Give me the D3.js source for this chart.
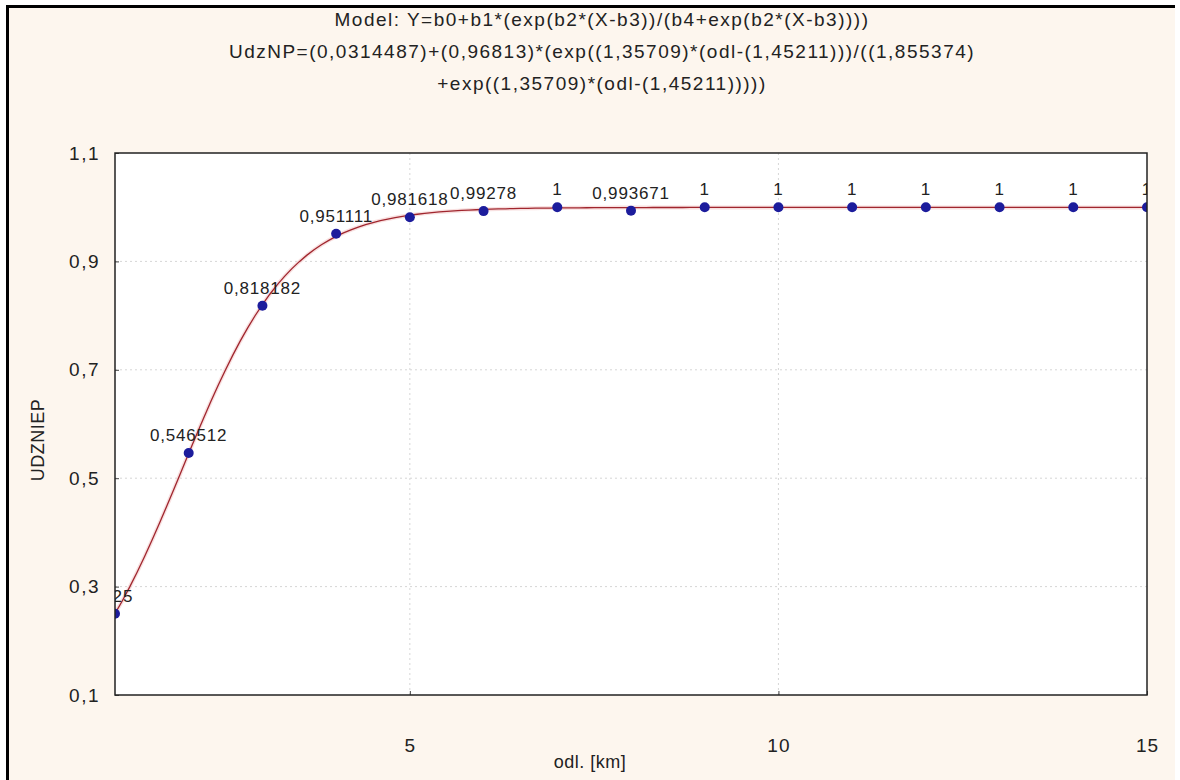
<!DOCTYPE html>
<html>
<head>
    <title>UDZNIEP vs odl.</title>
    <script src="https://d3js.org/d3.v7.min.js"></script>
    <style>
        body { margin: 0; background: #fff; }
        text { font-family: "Liberation Sans", Arial, sans-serif; fill: #222; }
    </style>
</head>
<body>
    <svg id="chart" width="1180" height="780"></svg>
    <script>
        // observed points
        const odl = [1, 2, 3, 4, 5, 6, 7, 8, 9, 10, 11, 12, 13, 14, 15];
        const udzniep = [0.25, 0.546512, 0.818182, 0.951111, 0.981618, 0.99278, 1, 0.993671, 1, 1, 1, 1, 1, 1, 1];
        const pointLabels = ["0,25", "0,546512", "0,818182", "0,951111", "0,981618", "0,99278", "1", "0,993671", "1", "1", "1", "1", "1", "1", "1"];

        // fitted model parameters b0..b4 (from the title)
        const modelParams = [0.0314487, 0.96813, 1.35709, 1.45211, 1.855374];

        const xTicks = [5, 10, 15];
        const yTicks = [0.1, 0.3, 0.5, 0.7, 0.9, 1.1];
        const xGrid = [5, 10];
        const yGrid = [0.3, 0.5, 0.7, 0.9];

        const titleLines = [
            "Model: Y=b0+b1*(exp(b2*(X-b3))/(b4+exp(b2*(X-b3))))",
            "UdzNP=(0,0314487)+(0,96813)*(exp((1,35709)*(odl-(1,45211)))/((1,855374)",
            "+exp((1,35709)*(odl-(1,45211)))))"
        ];

        const svg = d3.select("#chart");
        const W = 1180, H = 780;
        const plot = { left: 115, right: 1147, top: 153, bottom: 695 };

        // frame: cream panel with black top and left edges
        svg.append("rect").attr("x", 7).attr("y", 6).attr("width", 1168).attr("height", H - 6).attr("fill", "#fdf6ee");
        svg.append("line").attr("x1", 6).attr("x2", 1175).attr("y1", 6.5).attr("y2", 6.5).attr("stroke", "#000").attr("stroke-width", 3);
        svg.append("line").attr("x1", 7.5).attr("x2", 7.5).attr("y1", 5).attr("y2", H).attr("stroke", "#000").attr("stroke-width", 3);

        const x = d3.scaleLinear().domain([1, 15]).range([plot.left, plot.right]);
        const y = d3.scaleLinear().domain([0.1, 1.1]).range([plot.bottom, plot.top]);
        const comma = d => d3.format("")(d).replace(".", ",");

        svg.append("rect").attr("x", plot.left).attr("y", plot.top)
            .attr("width", plot.right - plot.left).attr("height", plot.bottom - plot.top)
            .attr("fill", "#fff");

        // grid
        const g = svg.append("g");
        g.selectAll(".hg").data(yGrid).enter().append("line")
            .attr("x1", plot.left).attr("x2", plot.right)
            .attr("y1", d => y(d)).attr("y2", d => y(d))
            .attr("stroke", "#d6d6d6").attr("stroke-dasharray", "2,3");
        g.selectAll(".vg").data(xGrid).enter().append("line")
            .attr("y1", plot.top).attr("y2", plot.bottom)
            .attr("x1", d => x(d)).attr("x2", d => x(d))
            .attr("stroke", "#d6d6d6").attr("stroke-dasharray", "2,3");

        // axes
        const xAxis = d3.axisBottom(x).tickValues(xTicks).tickSize(4).tickFormat(d3.format("d"));
        const yAxis = d3.axisLeft(y).tickValues(yTicks).tickSize(4).tickFormat(comma);

        const gx = svg.append("g").attr("transform", `translate(0,${plot.bottom})`).call(xAxis);
        gx.select(".domain").remove();
        gx.selectAll("line").attr("stroke", "#444").attr("y2", -4);
        gx.selectAll("text").attr("font-size", 19).attr("letter-spacing", 1)
            .attr("y", 57).attr("dy", 0);

        const gy = svg.append("g").attr("transform", `translate(${plot.left},0)`).call(yAxis);
        gy.select(".domain").remove();
        gy.selectAll("line").attr("stroke", "#444").attr("x2", 4);
        gy.selectAll("text").attr("font-size", 19).attr("letter-spacing", 1.5).attr("x", -15);

        // clip for marks and labels
        svg.append("clipPath").attr("id", "plotClip").append("rect")
            .attr("x", plot.left).attr("y", plot.top)
            .attr("width", plot.right - plot.left).attr("height", plot.bottom - plot.top);
        const marks = svg.append("g").attr("clip-path", "url(#plotClip)");

        // fitted curve evaluated from the model parameters
        const [b0, b1, b2, b3, b4] = modelParams;
        const model = v => b0 + b1 * Math.exp(b2 * (v - b3)) / (b4 + Math.exp(b2 * (v - b3)));
        const curveX = d3.range(1, 15.001, 0.1);
        const line = d3.line().x(d => x(d)).y(d => y(model(d)));
        marks.append("path").datum(curveX).attr("d", line)
            .attr("fill", "none").attr("stroke", "#f4cccc").attr("stroke-width", 4).attr("opacity", 0.6);
        marks.append("path").datum(curveX).attr("d", line)
            .attr("fill", "none").attr("stroke", "#a0262e").attr("stroke-width", 1.3);

        const pts = odl.map((d, i) => ({ x: d, y: udzniep[i], label: pointLabels[i] }));
        marks.selectAll("circle").data(pts).enter().append("circle")
            .attr("cx", d => x(d.x)).attr("cy", d => y(d.y)).attr("r", 5)
            .attr("fill", "#1c1c9c");
        marks.selectAll(".lbl").data(pts).enter().append("text")
            .attr("x", d => x(d.x)).attr("y", d => y(d.y) - 12)
            .attr("text-anchor", "middle").attr("font-size", 17).attr("letter-spacing", 0.8)
            .text(d => d.label);

        // plot border
        svg.append("rect").attr("x", plot.left).attr("y", plot.top)
            .attr("width", plot.right - plot.left).attr("height", plot.bottom - plot.top)
            .attr("fill", "none").attr("stroke", "#222").attr("stroke-width", 1.5);

        // titles
        svg.selectAll(".title").data(titleLines).enter().append("text")
            .attr("x", 602).attr("y", (d, i) => 26 + i * 32)
            .attr("text-anchor", "middle").attr("font-size", 19).attr("letter-spacing", 1.5)
            .text(d => d);

        svg.append("text").attr("x", 590).attr("y", 768).attr("text-anchor", "middle")
            .attr("font-size", 18).attr("letter-spacing", 0.5).text("odl. [km]");
        svg.append("text").attr("transform", "translate(44,440) rotate(-90)")
            .attr("text-anchor", "middle").attr("font-size", 18).attr("letter-spacing", 0.5).text("UDZNIEP");
    </script>
</body>
</html>
